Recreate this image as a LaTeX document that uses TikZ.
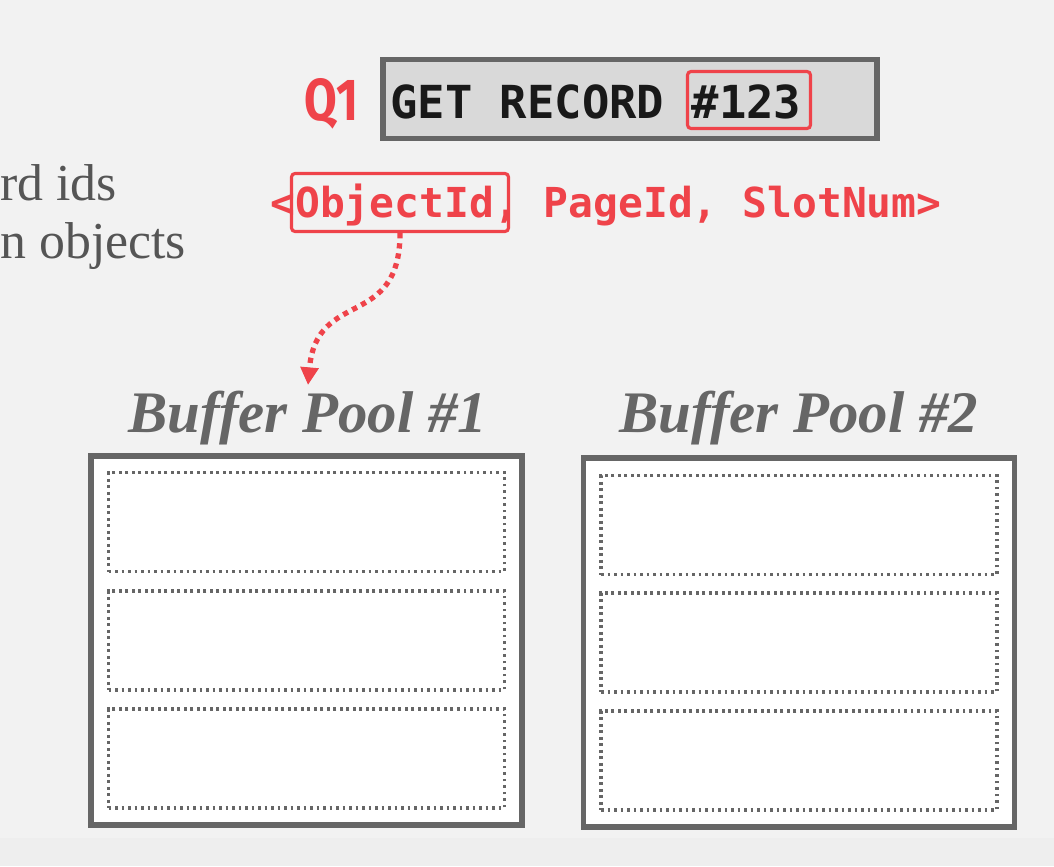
\documentclass[tikz,border=0pt]{standalone}
\usepackage{fontspec}
\setmainfont{Liberation Serif}
\newfontfamily\codefont{DejaVu Sans Mono}
\newfontfamily\qfont[FakeStretch=0.8]{Fira Sans}
\usetikzlibrary{arrows.meta,positioning}
\definecolor{dbred}{HTML}{EF434A}
\definecolor{dbgray}{HTML}{666666}
\definecolor{cmdfill}{HTML}{D9D9D9}
\definecolor{slidebg}{HTML}{F2F2F2}
\definecolor{slideband}{HTML}{EEEEEE}
\definecolor{bodytext}{HTML}{555555}

\begin{document}
\begin{tikzpicture}[x=0.02cm,y=-0.02cm,
    pool/.style={draw=dbgray,line width=3.2pt,fill=white,minimum width=8.62cm,minimum height=7.38cm,inner sep=0},
    slot/.style={draw=dbgray,line width=2pt,dash pattern=on 1.6pt off 2.1pt,minimum width=7.92cm,minimum height=1.98cm,inner sep=0},
    pooltitle/.style={font=\bfseries\itshape\fontsize{33.5}{38}\selectfont,text=dbgray,inner sep=3pt,anchor=base},
    hilite/.style={draw=dbred,line width=1.8pt,rounded corners=2pt,inner sep=0},
    code/.style={font=\codefont\bfseries,inner sep=0,anchor=base west},
    ptr/.style={dbred,line width=3pt,dash pattern=on 3pt off 2.8pt,-{Triangle[length=10pt,width=10pt]}}]
  \useasboundingbox (0,0) rectangle (1054,866);
  \fill[slidebg] (0,0) rectangle (1054,866);
  \fill[slideband] (0,838) rectangle (1054,866);

  \node[text=bodytext,font=\fontsize{29.5}{33}\selectfont,align=left,inner sep=0,anchor=base west] (note) at (0,258) {rd ids\\n objects};

  \node[font=\qfont\bfseries\fontsize{33.7}{38}\selectfont,text=dbred,inner sep=0,anchor=base] (q1) at (331,120) {Q1};
  \node[draw=dbgray,line width=3pt,fill=cmdfill,minimum width=9.88cm,minimum height=1.58cm,inner sep=0] (cmd) at (630,99) {};
  \node[code,text=black!90,font=\codefont\bfseries\fontsize{25.9}{30}\selectfont] (getrec) at (390,118) {GET RECORD \#123};
  \node[hilite,minimum width=2.46cm,minimum height=1.14cm] (recid) at (749,100) {};

  \node[code,text=dbred,font=\codefont\bfseries\fontsize{23.5}{28}\selectfont] (tuple) at (270,217) {<ObjectId, PageId, SlotNum>};
  \node[hilite,minimum width=4.34cm,minimum height=1.16cm] (oid) at (400,202.5) {};

  \node[pool] (pool1) at (306.5,640.5) {};
  \node[pool] (pool2) at (799,642.5) {};
  \node[pooltitle] (bp1) at (308,432) {Buffer Pool \#1};
  \node[pooltitle] (bp2) at (799,432) {Buffer Pool \#2};
  \foreach \i/\y in {1/522,2/640.5,3/758.5}
    \node[slot] (a\i) at (306.5,\y) {};
  \foreach \i/\y in {1/525,2/642.5,3/760.5}
    \node[slot] (b\i) at (799,\y) {};

  \draw[ptr] (oid.south) to[out=-90,in=85,looseness=1.4] (bp1.north);
\end{tikzpicture}
\end{document}
